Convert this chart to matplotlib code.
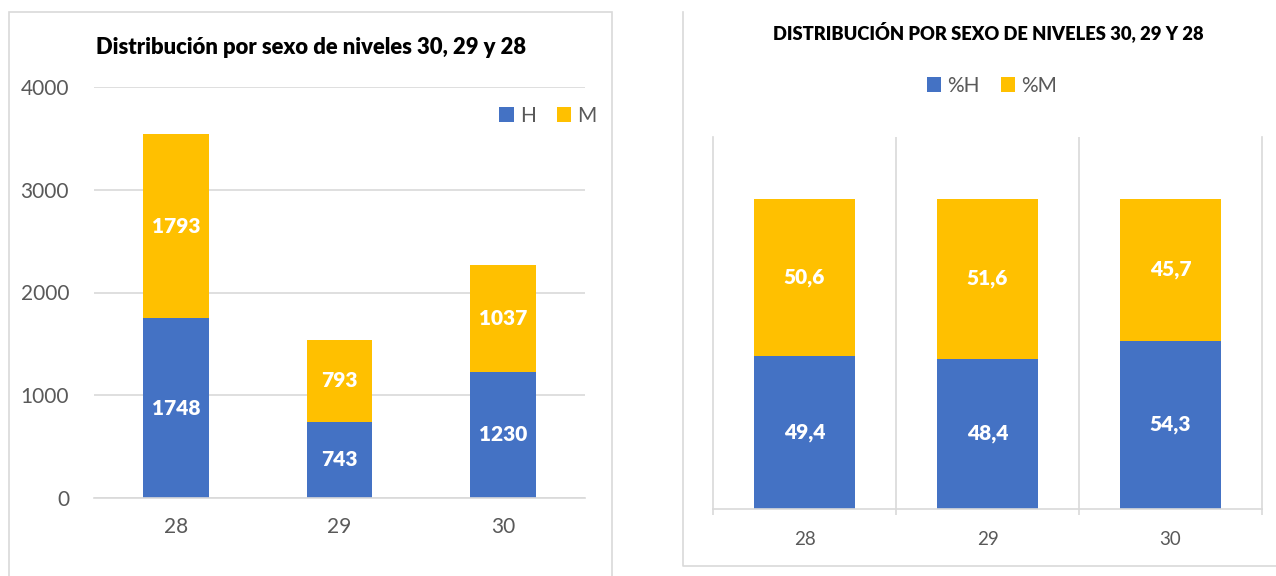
import matplotlib.pyplot as plt
from matplotlib.patches import Rectangle
from matplotlib.lines import Line2D

plt.rcParams.update({
    "font.family": ["Lato", "DejaVu Sans"],
})

# data
niveles = ["28", "29", "30"]
hombres = [1748, 743, 1230]
mujeres = [1793, 793, 1037]
pct_h = [49.4, 48.4, 54.3]
pct_m = [50.6, 51.6, 45.7]
yticks_left = [0, 1000, 2000, 3000, 4000]

BLUE = "#4472C4"
GOLD = "#FFC000"
GRID = "#D9D9D9"
TXT = "#595959"
BOLD = "heavy"

W, H = 1276, 576
fig = plt.figure(figsize=(W / 100, H / 100), dpi=100)


def fx(px):
    return px / W


def fy(py):
    return 1 - py / H


# panel frames
fig.add_artist(Rectangle((fx(9), fy(590)), fx(603), fy(12) - fy(590), transform=fig.transFigure,
                         fill=False, edgecolor=GRID, linewidth=1.2))
fig.add_artist(Line2D([fx(683), fx(683), fx(1280)], [fy(12), fy(566), fy(566)],
                      transform=fig.transFigure, color=GRID, linewidth=1.2))

# ---- left chart: counts
ax1 = fig.add_axes([fx(94), fy(498), fx(585) - fx(94), fy(87) - fy(498)])
x = range(len(niveles))
b1 = ax1.bar(x, hombres, width=0.4, color=BLUE)
b2 = ax1.bar(x, mujeres, width=0.4, bottom=hombres, color=GOLD)
ax1.set_xlim(-0.5, 2.5)
ax1.set_ylim(0, 4000)
ax1.set_yticks(yticks_left)
ax1.set_xticks(list(x))
ax1.set_xticklabels(niveles)
ax1.yaxis.grid(True, color=GRID, linewidth=1.2)
ax1.set_axisbelow(True)
for s in ["top", "right", "left"]:
    ax1.spines[s].set_visible(False)
ax1.spines["bottom"].set_color(GRID)
ax1.spines["bottom"].set_linewidth(1.2)
ax1.tick_params(length=0, labelsize=15, colors=TXT, pad=18)
ax1.tick_params(axis="x", pad=14)

for i in x:
    ax1.text(i, hombres[i] / 2, str(hombres[i]), ha="center", va="center",
             color="white", fontsize=15, fontweight=BOLD)
    ax1.text(i, hombres[i] + mujeres[i] / 2, str(mujeres[i]), ha="center", va="center",
             color="white", fontsize=15, fontweight=BOLD)

fig.text(fx(311), fy(47), "Distribución por sexo de niveles 30, 29 y 28", ha="center", va="center",
         fontsize=15.8, fontweight=BOLD, color="black")
fig.legend([b1, b2], ["H", "M"], loc="center", bbox_to_anchor=(fx(548), fy(116)), ncol=2,
           frameon=False, fontsize=15, handlelength=0.7, handleheight=0.7, handletextpad=0.3,
           columnspacing=1.0, labelcolor=TXT)

# ---- right chart: percentages
ax2 = fig.add_axes([fx(713), fy(509), fx(1262) - fx(713), fy(137) - fy(509)])
c1 = ax2.bar(x, pct_h, width=0.55, color=BLUE)
c2 = ax2.bar(x, pct_m, width=0.55, bottom=pct_h, color=GOLD)
ax2.set_xlim(-0.5, 2.5)
ax2.set_ylim(0, 120)
ax2.set_yticks([])
ax2.set_xticks(list(x))
ax2.set_xticklabels(niveles)
ax2.set_xticks([-0.5, 0.5, 1.5, 2.5], minor=True)
ax2.tick_params(axis="x", which="major", length=0, labelsize=13.5, colors=TXT, pad=16)
ax2.tick_params(axis="x", which="minor", length=4, color=GRID, width=1.2)
ax2.spines["top"].set_visible(False)
for s in ["left", "right", "bottom"]:
    ax2.spines[s].set_color(GRID)
    ax2.spines[s].set_linewidth(1.2)
for xv in [0.5, 1.5]:
    ax2.axvline(xv, color=GRID, linewidth=1.2, zorder=0)

for i in x:
    ax2.text(i, pct_h[i] / 2, f"{pct_h[i]:.1f}".replace(".", ","), ha="center", va="center",
             color="white", fontsize=15, fontweight=BOLD)
    ax2.text(i, pct_h[i] + pct_m[i] / 2, f"{pct_m[i]:.1f}".replace(".", ","), ha="center",
             va="center", color="white", fontsize=15, fontweight=BOLD)

fig.text(fx(988), fy(32), "DISTRIBUCIÓN POR SEXO DE NIVELES 30, 29 Y 28", ha="center", va="center",
         fontsize=13.2, fontweight=BOLD, color="black")
fig.legend([c1, c2], ["%H", "%M"], loc="center", bbox_to_anchor=(fx(992), fy(86)), ncol=2,
           frameon=False, fontsize=15, handlelength=0.7, handleheight=0.7, handletextpad=0.3,
           columnspacing=1.0, labelcolor=TXT)

fig.savefig("out.png", dpi=100, facecolor="white")
